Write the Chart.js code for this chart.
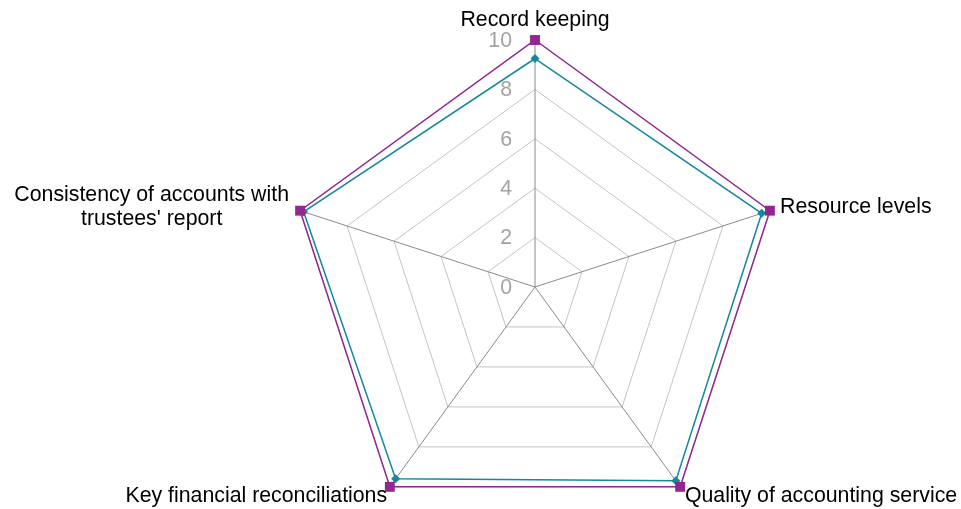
<!DOCTYPE html>
<html><head><meta charset="utf-8">
<script src="https://cdn.jsdelivr.net/npm/chart.js@4/dist/chart.umd.min.js"></script>
<style>
html,body{margin:0;padding:0;background:#fff;overflow:hidden}
#wrap{width:961px;height:509px;overflow:hidden;position:relative}
canvas{display:block}
</style>
</head><body>
<div id="wrap"><canvas id="c" width="961" height="600"></canvas></div>
<script>
const categories = [
  ['Record keeping'],
  ['Resource levels'],
  ['Quality of accounting service'],
  ['Key financial reconciliations'],
  ['Consistency of accounts with', "trustees' report"]
];
const seriesPurple = [10, 10, 10, 10, 10];
const seriesTeal = [9.25, 9.65, 9.7, 9.6, 9.85];
const tickValues = [0, 2, 4, 6, 8, 10];

const FONT = '21.3px "Liberation Sans", Arial, sans-serif';

const labelPlugin = {
  id: 'customLabels',
  afterDraw(chart) {
    const s = chart.scales.r;
    const ctx = chart.ctx;
    ctx.save();
    ctx.font = FONT;
    // tick labels, right-aligned left of vertical axis
    ctx.fillStyle = '#a3a3a3';
    ctx.textAlign = 'right';
    ctx.textBaseline = 'middle';
    tickValues.forEach(v => {
      const d = s.getDistanceFromCenterForValue(v);
      ctx.fillText(String(v), s.xCenter - 23, s.yCenter - d + 1);
    });
    // point labels
    ctx.fillStyle = '#000';
    ctx.textBaseline = 'alphabetic';
    const lh = 24;
    categories.forEach((lines, i) => {
      const p = s.getPointPosition(i, s.drawingArea + 8);
      let x = p.x, y = p.y, align;
      const ang = ((i * 360 / categories.length) % 360);
      if (ang === 0) { align = 'center'; y = p.y - 6; }
      else if (ang < 90) { align = 'left'; x = p.x + 2.5; y = p.y + 5; }
      else if (ang < 180) { align = 'left'; x = p.x; y = p.y + 9; }
      else if (ang < 270) { align = 'right'; x = p.x + 2; y = p.y + 9; }
      else { align = 'right'; x = p.x - 3.5; y = p.y + 5 - (lines.length - 1) * lh / 2; }
      if (align === 'right' && lines.length > 1) {
        const w = Math.max(...lines.map(l => ctx.measureText(l).width));
        ctx.textAlign = 'center';
        lines.forEach((l, k) => ctx.fillText(l, x - w / 2, y + k * lh));
      } else {
        ctx.textAlign = align;
        lines.forEach((l, k) => ctx.fillText(l, x, y + k * lh));
      }
    });
    ctx.restore();
  }
};

new Chart(document.getElementById('c'), {
  type: 'radar',
  data: {
    labels: categories,
    datasets: [
      {
        label: 'Series 1',
        data: seriesPurple,
        borderColor: '#922790',
        backgroundColor: '#922790',
        borderWidth: 1.5,
        fill: false,
        pointStyle: 'rect',
        pointRadius: 7,
        pointHoverRadius: 7,
        pointBorderWidth: 0,
        tension: 0
      },
      {
        label: 'Series 2',
        data: seriesTeal,
        borderColor: '#15889C',
        backgroundColor: '#15889C',
        borderWidth: 1.5,
        fill: false,
        pointStyle: 'rectRot',
        pointRadius: 4.5,
        pointHoverRadius: 4.5,
        pointBorderWidth: 0,
        tension: 0
      }
    ]
  },
  options: {
    responsive: false,
    animation: false,
    devicePixelRatio: 1,
    layout: { padding: { left: 288, right: 179, top: 40, bottom: 66 } },
    plugins: { legend: { display: false }, tooltip: { enabled: false } },
    scales: {
      r: {
        min: 0,
        max: 10,
        ticks: { display: false, stepSize: 2 },
        grid: { color: '#c4c4c4', lineWidth: 1 },
        angleLines: { color: '#8a8a8a', lineWidth: 1 },
        pointLabels: { display: false }
      }
    }
  },
  plugins: [labelPlugin]
});
</script>
</body></html>
